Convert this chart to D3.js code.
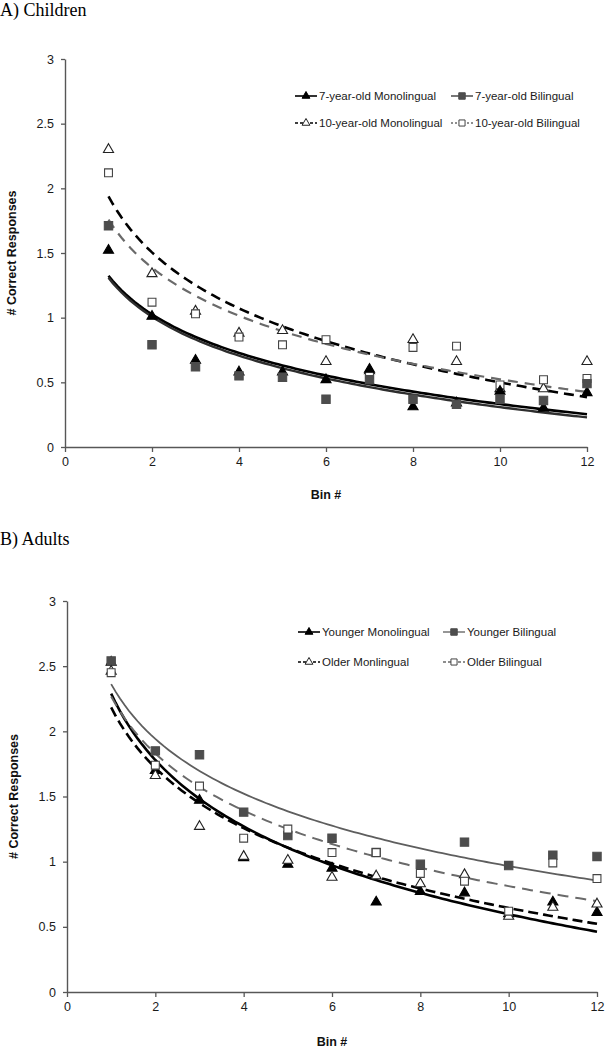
<!DOCTYPE html>
<html>
<head>
<meta charset="utf-8">
<script src="https://cdn.jsdelivr.net/npm/d3@7"></script>
<style>
  html, body { margin: 0; padding: 0; background: #fff; }
  svg { display: block; }
</style>
</head>
<body>
<svg id="chart" width="606" height="1048"></svg>
<script>
// ---------------- DATA ----------------
const bins = [1, 2, 3, 4, 5, 6, 7, 8, 9, 10, 11, 12];
const xTickValues = [0, 2, 4, 6, 8, 10, 12];
const yTickValues = [0, 0.5, 1, 1.5, 2, 2.5, 3];

// Panel A: children
const childNames = ["7-year-old Monolingual", "7-year-old Bilingual", "10-year-old Monolingual", "10-year-old Bilingual"];
const child7Mono = [1.52, 1.01, 0.67, 0.58, 0.58, 0.52, 0.60, 0.31, 0.34, 0.43, 0.30, 0.42];
const child7Bi   = [1.71, 0.79, 0.62, 0.55, 0.54, 0.37, 0.52, 0.37, 0.33, 0.37, 0.36, 0.49];
const child10Mono = [2.30, 1.34, 1.05, 0.88, 0.90, 0.66, 0.59, 0.83, 0.66, 0.45, 0.45, 0.66];
const child10Bi   = [2.12, 1.12, 1.03, 0.85, 0.79, 0.83, 0.56, 0.77, 0.78, 0.48, 0.52, 0.53];

// Panel B: adults
const adultNames = ["Younger Monolingual", "Younger Bilingual", "Older Monlingual", "Older Bilingual"];
const youngMono = [2.53, 1.70, 1.47, 1.03, 0.98, 0.95, 0.69, 0.77, 0.76, 0.60, 0.69, 0.61];
const youngBi   = [2.54, 1.85, 1.82, 1.38, 1.20, 1.18, 1.07, 0.98, 1.15, 0.97, 1.05, 1.04];
const oldMono   = [2.46, 1.66, 1.27, 1.04, 1.01, 0.88, 0.89, 0.83, 0.90, 0.58, 0.65, 0.675];
const oldBi     = [2.45, 1.74, 1.58, 1.18, 1.25, 1.07, 1.07, 0.91, 0.85, 0.62, 0.99, 0.87];

// ---------------- STYLES ----------------
const styles = [
  { symbol: d3.symbolTriangle, size: 44, fill: "#000", stroke: "#000", line: "#000", width: 2.6, dash: null, legendDash: null },
  { symbol: d3.symbolSquare, size: 70, fill: "#4d4d4d", stroke: "#4d4d4d", line: "#2e2e2e", width: 2.4, dash: null, legendDash: null },
  { symbol: d3.symbolTriangle, size: 44, fill: "#fff", stroke: "#222", line: "#000", width: 2.6, dash: "10,6", legendDash: "3,2" },
  { symbol: d3.symbolSquare, size: 62, fill: "#fff", stroke: "#444", line: "#6a6a6a", width: 2.2, dash: "10,7", legendDash: "2,2" }
];
const adultStyles = [
  { symbol: d3.symbolTriangle, size: 44, fill: "#000", stroke: "#000", line: "#000", width: 2.6, dash: null, legendDash: null },
  { symbol: d3.symbolSquare, size: 70, fill: "#4d4d4d", stroke: "#4d4d4d", line: "#5e5e5e", width: 1.8, dash: null, legendDash: null },
  { symbol: d3.symbolTriangle, size: 44, fill: "#fff", stroke: "#222", line: "#000", width: 2.6, dash: "10,5", legendDash: "3,2" },
  { symbol: d3.symbolSquare, size: 62, fill: "#fff", stroke: "#444", line: "#6a6a6a", width: 2.0, dash: "11,7", legendDash: "3,2" }
];

// Least-squares logarithmic trend (y = a + b ln x), as in a spreadsheet trendline
function logFit(xs, ys) {
  const lx = xs.map(Math.log);
  const mx = d3.mean(lx), my = d3.mean(ys);
  let sxy = 0, sxx = 0;
  lx.forEach((v, i) => { sxy += (v - mx) * (ys[i] - my); sxx += (v - mx) * (v - mx); });
  const b = sxy / sxx, a = my - b * mx;
  return x => a + b * Math.log(x);
}

const svg = d3.select("#chart");
const axisColor = "#575757";

function drawPanel(cfg) {
  const g = svg.append("g");
  const x = d3.scaleLinear().domain([0, 12]).range([cfg.left, cfg.right]);
  const y = d3.scaleLinear().domain([0, 3]).range([cfg.bottom, cfg.top]);

  // title
  g.append("text").attr("x", 0).attr("y", cfg.titleY)
    .attr("font-family", "'Liberation Serif', 'Times New Roman', serif")
    .attr("font-size", 18).attr("fill", "#000").text(cfg.title);

  // axes
  const yAxis = d3.axisLeft(y).tickValues(yTickValues).tickSize(4).tickSizeOuter(0).tickPadding(7)
    .tickFormat(d => String(d));
  const xAxis = d3.axisBottom(x).tickValues(xTickValues).tickSize(5).tickSizeOuter(0).tickPadding(5)
    .tickFormat(d => String(d));

  const ga = g.append("g").attr("transform", `translate(${cfg.left},0)`).call(yAxis);
  const gb = g.append("g").attr("transform", `translate(0,${cfg.bottom})`).call(xAxis);
  [ga, gb].forEach(a => {
    a.selectAll("path.domain").attr("stroke", axisColor).attr("stroke-width", 1.4);
    a.selectAll(".tick line").attr("stroke", axisColor).attr("stroke-width", 1.3);
    a.selectAll(".tick text").attr("fill", "#1a1a1a")
      .attr("font-family", "'Liberation Sans', Arial, sans-serif").attr("font-size", 12.5);
  });

  // axis titles
  g.append("text")
    .attr("transform", `translate(${cfg.yLabelX},${(cfg.top + cfg.bottom) / 2}) rotate(-90)`)
    .attr("text-anchor", "middle")
    .attr("font-family", "'Liberation Sans', Arial, sans-serif").attr("font-weight", "bold")
    .attr("font-size", 12.5).attr("fill", "#111").text("# Correct Responses");
  g.append("text")
    .attr("x", (cfg.left + cfg.right) / 2).attr("y", cfg.xLabelY)
    .attr("text-anchor", "middle")
    .attr("font-family", "'Liberation Sans', Arial, sans-serif").attr("font-weight", "bold")
    .attr("font-size", 12.5).attr("fill", "#111").text("Bin #");

  // trend lines
  const xs = d3.range(1, 12.001, 0.1);
  const line = d3.line().x(d => x(d[0])).y(d => y(d[1]));
  cfg.series.forEach((s, i) => {
    const st = cfg.styles[i];
    const f = logFit(bins, s);
    g.append("path").datum(xs.map(v => [v, f(v)]))
      .attr("d", line).attr("fill", "none")
      .attr("stroke", st.line).attr("stroke-width", st.width)
      .attr("stroke-dasharray", st.dash);
  });

  // markers
  cfg.order.forEach(i => {
    const st = cfg.styles[i];
    const sym = d3.symbol().type(st.symbol).size(st.size);
    g.append("g").selectAll("path").data(cfg.series[i].map((v, k) => [bins[k], v]))
      .join("path")
      .attr("transform", d => `translate(${x(d[0])},${y(d[1])})`)
      .attr("d", sym)
      .attr("fill", st.fill).attr("stroke", st.stroke).attr("stroke-width", 1.1);
  });

  // legend
  cfg.legendPos.forEach((p, i) => {
    const st = cfg.styles[i];
    const lg = g.append("g").attr("transform", `translate(${p[0]},${p[1]})`);
    lg.append("line").attr("x1", 0).attr("x2", 22).attr("y1", 0).attr("y2", 0)
      .attr("stroke", st.line).attr("stroke-width", i % 2 === 0 ? 1.6 : 1.3)
      .attr("stroke-dasharray", st.legendDash);
    lg.append("path").attr("transform", "translate(11,0)")
      .attr("d", d3.symbol().type(st.symbol).size(st.size * 0.6))
      .attr("fill", st.fill).attr("stroke", st.stroke).attr("stroke-width", 1);
    lg.append("text").attr("x", 24).attr("y", 4)
      .attr("font-family", "'Liberation Sans', Arial, sans-serif").attr("font-size", 11.5)
      .attr("fill", "#1a1a1a").text(cfg.names[i]);
  });
}

drawPanel({
  title: "A) Children", titleY: 16,
  left: 65, right: 587, top: 59, bottom: 447,
  yLabelX: 16, xLabelY: 499,
  series: [child7Mono, child7Bi, child10Mono, child10Bi],
  order: [2, 3, 0, 1],
  names: childNames, styles: styles,
  legendPos: [[295, 96], [451, 96], [295, 123], [451, 123]]
});

drawPanel({
  title: "B) Adults", titleY: 545,
  left: 67, right: 597, top: 601, bottom: 992,
  yLabelX: 18, xLabelY: 1046,
  series: [youngMono, youngBi, oldMono, oldBi],
  order: [0, 1, 2, 3],
  names: adultNames, styles: adultStyles,
  legendPos: [[298, 632], [443, 632], [298, 662], [443, 662]]
});
</script>
</body>
</html>
